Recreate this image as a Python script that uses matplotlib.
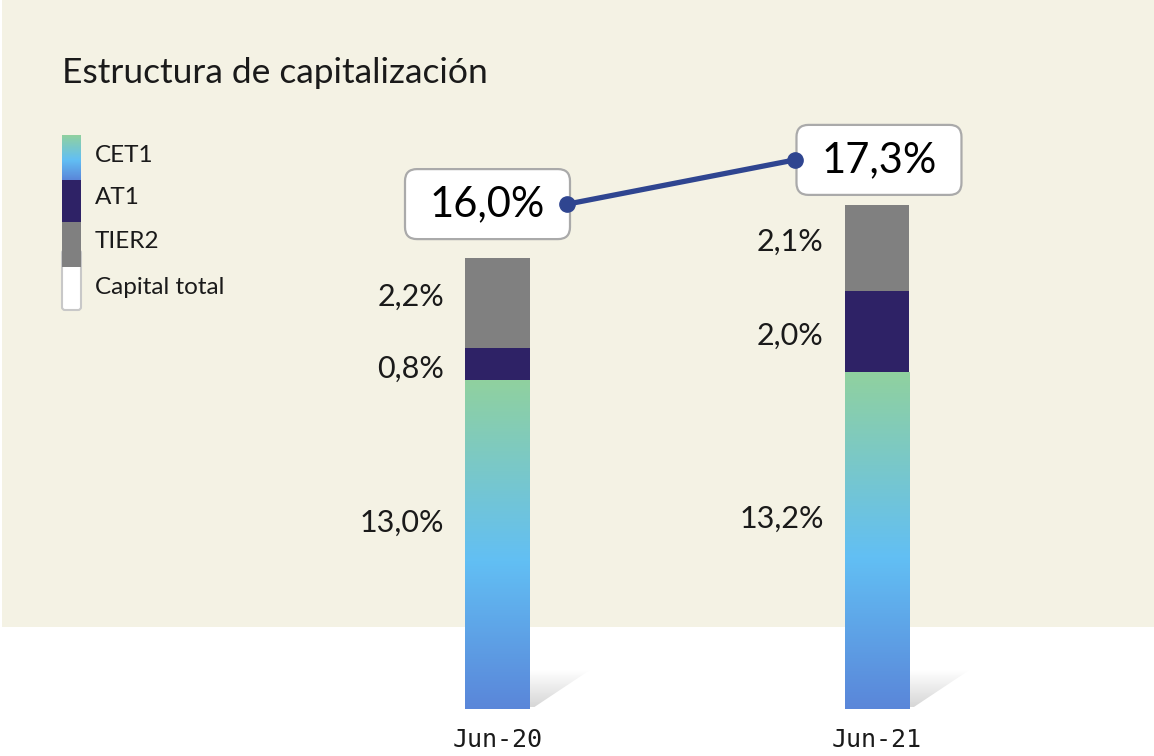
import numpy as np
import matplotlib
matplotlib.use('Agg')
import matplotlib.pyplot as plt
from matplotlib.colors import LinearSegmentedColormap
from matplotlib.patches import Rectangle, FancyBboxPatch, Polygon
from matplotlib.lines import Line2D
from matplotlib.transforms import ScaledTranslation, IdentityTransform

# data
periods = ['Jun-20', 'Jun-21']
cet1 = np.array([13.0, 13.2])
at1 = np.array([0.8, 2.0])
tier2 = np.array([2.2, 2.1])
total = [16.0, 17.3]
cet1_lbl = ['13,0%', '13,2%']
at1_lbl = ['0,8%', '2,0%']
tier2_lbl = ['2,2%', '2,1%']
total_lbl = ['16,0%', '17,3%']
legend_names = ['CET1', 'AT1', 'TIER2', 'Capital total']

plt.rcParams['font.family'] = ['Lato', 'DejaVu Sans']
txt_col = '#1a1a1a'
at1_col = '#2E2266'
tier2_col = '#808080'
line_col = '#2F4590'
cet_cmap = LinearSegmentedColormap.from_list(
    'cet', [(0, '#5A86D9'), (0.45, '#62BFF4'), (1, '#90D19F')])
shadow_cmap = LinearSegmentedColormap.from_list('sh', ['#d6d6d6', '#ffffff'])
grad = np.linspace(0, 1, 256).reshape(-1, 1)

W, H = 1154, 756
fig = plt.figure(figsize=(W / 100, H / 100), dpi=100)

# background layer in pixel coords (title, legend)
bg = fig.add_axes([0, 0, 1, 1])
bg.axis('off')
bg.add_patch(Rectangle((2, 0), W, 627, color='#F4F2E4', lw=0, zorder=0))
bg.text(62, 83, 'Estructura de capitalización', fontsize=25.5, va='baseline', color=txt_col)

# legend strip
bg.add_patch(FancyBboxPatch((62, 250), 19, 60, boxstyle='round,pad=0,rounding_size=3',
                            fc='white', ec='#c8c8c8', lw=1.5, zorder=2))
bg.imshow(grad, extent=(62, 81, 180, 135), origin='lower', cmap=cet_cmap, aspect='auto', zorder=3)
bg.add_patch(Rectangle((62, 180), 19, 42, color=at1_col, lw=0, zorder=3))
bg.add_patch(Rectangle((62, 222), 19, 45, color=tier2_col, lw=0, zorder=3))
for name, yy in zip(legend_names, [155, 198, 242, 287]):
    bg.text(95, yy, name, fontsize=17.5, va='center', color=txt_col)
bg.set_xlim(0, W)
bg.set_ylim(H, 0)

# main bars
ax = fig.add_axes([0, 47 / H, 1, 609 / H])
ax.set_facecolor('none')
x = np.arange(len(periods))
w = 0.171
y0 = 5.0
ax.bar(x, cet1, w, color='#90D19F', zorder=2)
ax.bar(x, at1, w, bottom=cet1, color=at1_col, zorder=2)
ax.bar(x, tier2, w, bottom=cet1 + at1, color=tier2_col, zorder=2)
for xi, c in zip(x, cet1):
    ax.imshow(grad, extent=(xi - w / 2, xi + w / 2, y0, c), origin='lower',
              cmap=cet_cmap, aspect='auto', zorder=3)
    # small shadow at the foot of the bar
    r = xi + w / 2
    poly = Polygon([(r, y0 + 0.05), (r, y0 + 0.95), (r + 0.158, y0 + 0.95), (r + 0.012, y0 + 0.05)],
                   closed=True, fill=False, lw=0, transform=ax.transData)
    ax.add_patch(poly)
    sh = ax.imshow(grad, extent=(r, r + 0.158, y0 + 0.05, y0 + 0.95), origin='lower',
                   cmap=shadow_cmap, aspect='auto', zorder=1)
    sh.set_clip_path(poly)

# segment labels
for i, xi in enumerate(x):
    segs = [((y0 + cet1[i]) / 2, cet1_lbl[i], 22),
            (cet1[i] + at1[i] / 2, at1_lbl[i], -4),
            (cet1[i] + at1[i] + tier2[i] / 2, tier2_lbl[i], 6)]
    for yc, lbl, dy in segs:
        ax.annotate(lbl, xy=(xi - w / 2, yc), xytext=(-15, dy * 0.72), textcoords='offset points',
                    ha='right', va='center', fontsize=22, color=txt_col)

ax.set_xlim(-1.311, 1.730)
ax.set_ylim(y0, y0 + 609 / 41)
ax.set_xticks(x)
ax.set_xticklabels(periods, fontsize=18, family='DejaVu Sans Mono', color=txt_col)
ax.tick_params(axis='x', length=0, pad=14)
ax.set_yticks([])
for s in ax.spines.values():
    s.set_visible(False)

# total capital line on its own scale
ax2 = ax.twinx()
ax2.set_ylim(1.15, 1.15 + 609 / 34)
ax2.axis('off')
box_dx = [-0.10, 0.02]
edge_dx = [0.70, -0.82]
pts = [(ax2.transData + ScaledTranslation(dx, 0, fig.dpi_scale_trans)).transform((xi, t))
       for xi, t, dx in zip(x, total, edge_dx)]
pts = np.array(pts)
for xi, t, lbl, bdx in zip(x, total, total_lbl, box_dx):
    trans = fig.dpi_scale_trans + ScaledTranslation(xi, t, ax2.transData)
    ax2.add_patch(FancyBboxPatch((bdx - 0.825, -0.35), 1.65, 0.70,
                                 boxstyle='round,pad=0,rounding_size=0.12',
                                 fc='white', ec='#AAAAAA', lw=1.6, transform=trans, zorder=4))
    ax2.text(bdx, 0, lbl, transform=trans, ha='center', va='center', fontsize=30,
             color='black', zorder=5)
fig.add_artist(Line2D(pts[:, 0], pts[:, 1], transform=IdentityTransform(), color=line_col,
                      lw=3.8, marker='o', markersize=11, zorder=6))
ax2.set_ylim(1.15, 1.15 + 609 / 34)

fig.savefig('out.png', dpi=100)
